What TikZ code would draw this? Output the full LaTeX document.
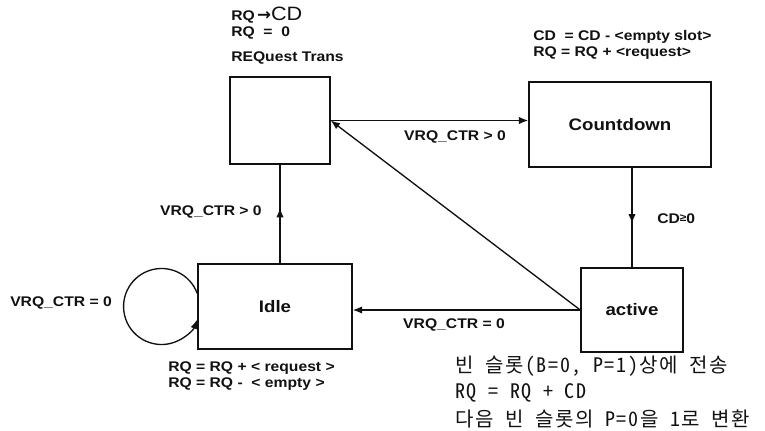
\documentclass[tikz,border=0pt]{standalone}
\usepackage{fontspec}
\setmainfont{Liberation Sans}[FakeStretch=1.12]
\newfontfamily\krfont{Noto Sans CJK KR}[RawFeature=+hwid,LetterSpace=8]
\newfontfamily\arrowfont{DejaVu Sans}
\usepackage{tikz}
\usetikzlibrary{arrows.meta,positioning,decorations.markings}
\definecolor{ink}{HTML}{111111}

\begin{document}
\begin{tikzpicture}[x=0.75pt,y=-0.75pt,
    state/.style={draw=ink,line width=1.1pt,inner sep=0pt,text=ink,
                  font=\bfseries\fontsize{12.5}{14}\selectfont},
    lbl/.style={font=\bfseries\fontsize{10.5}{12}\selectfont,inner sep=0pt,text=ink},
    note/.style={lbl,anchor=west},
    kor/.style={font=\krfont\fontsize{15}{17}\selectfont,inner sep=0pt,anchor=west,text=ink},
    flow/.style={draw=ink,line width=1pt,-{Latex[length=7pt,width=5.5pt]}},
    midflow/.style={draw=ink,line width=1pt,postaction={decorate},
                    decoration={markings,mark=at position 0.56 with {\arrow{Latex[length=7pt,width=5.5pt]}}}}]
  \useasboundingbox (0,0) rectangle (765,430);

  \node[state,minimum width=75pt,minimum height=65pt] (reqtrans) at (280,120.5) {};
  \node[state,minimum width=136.5pt,minimum height=63.75pt] (countdown) at (620,124.5) {Countdown};
  \node[state,minimum width=115.5pt,minimum height=63.75pt] (idle) at (275,306.5) {Idle};
  \node[state,minimum width=76.5pt,minimum height=63pt] (active) at (632,310) {active};

  \draw[flow] (reqtrans.east) -- (reqtrans.east -| countdown.west);
  \draw[midflow] (countdown.south -| active.north) -- (active.north);
  \draw[flow] (active.west) -- (active.west -| idle.east);
  \draw[flow] (active.west) -- (reqtrans.east);
  \draw[midflow] (idle.north -| reqtrans.south) -- (reqtrans.south);
  \draw[flow] ([yshift=9.75pt]idle.west) arc[start angle=20,end angle=340,radius=28.5pt];

  \node[lbl] (gotrans) at (455,137) {VRQ\_CTR > 0};
  \node[lbl,anchor=east] (gostart) at (262,212) {VRQ\_CTR > 0};
  \node[lbl] (goidle) at (454,325) {VRQ\_CTR = 0};
  \node[lbl,anchor=west] (stayidle) at (10,303) {VRQ\_CTR = 0};
  \node[lbl,anchor=west] (cdzero) at (657,219)
    {CD\raisebox{1.5pt}{\fontsize{8}{8}\selectfont\char"2265}0};

  \node[note] (reqnote1) at (231,15)
    {RQ\,{\arrowfont\bfseries\fontsize{12.5}{10}\selectfont\char"2192}{\fontsize{14.5}{14}\selectfont\mdseries CD}};
  \node[note] (reqnote2) at (231,33) {RQ~~=~~0};
  \node[note] (reqnote3) at (231,58) {REQuest Trans};
  \node[note] (cdnote1) at (533,37) {CD~~= CD - <empty slot>};
  \node[note] (cdnote2) at (533,53) {RQ = RQ + <request>};
  \node[note] (idlenote1) at (168,368) {RQ = RQ + < request >};
  \node[note] (idlenote2) at (168,384) {RQ = RQ -~~< empty >};
  \node[kor] (actnote1) at (455,366) {빈 슬롯(B=0, P=1)상에 전송};
  \node[kor] (actnote2) at (455,393) {RQ = RQ + CD};
  \node[kor] (actnote3) at (455,419) {다음 빈 슬롯의 P=0을 1로 변환};
\end{tikzpicture}
\end{document}
